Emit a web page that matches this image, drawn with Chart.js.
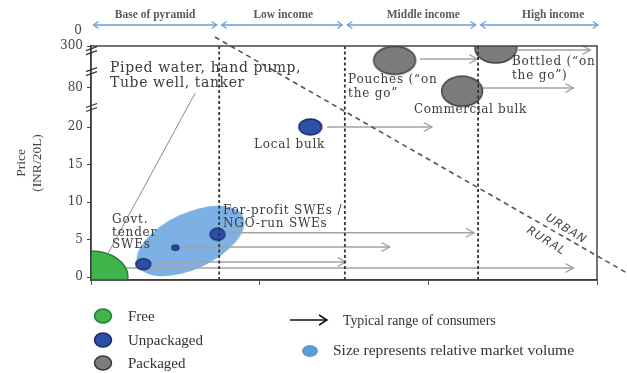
<!DOCTYPE html>
<html><head><meta charset="utf-8">
<script src="https://cdn.jsdelivr.net/npm/chart.js@4.4.1/dist/chart.umd.min.js"></script>
<style>html,body{margin:0;padding:0;background:#fff;}#wrap{width:627px;height:373px;}</style>
</head><body><div id="wrap"><canvas id="c" width="627" height="373"></canvas></div>
<script>
// ---------------- DATA ----------------
// Price axis (INR per 20 L) with breaks above 20
const yTickPrices = [0, 5, 10, 15, 20, 80, 300];
const yTickLabels = ['0', '5', '10', '15', '20', '80', '300'];
const yBreakPrices = [50, 166, 276];

// Consumer income groups along x (income index 0..3)
const incomeGroups = ['Base of pyramid', 'Low income', 'Middle income', 'High income'];
const groupEdges = [0, 0.76, 1.505, 2.295, 3.02];
const groupLabelAt = [0.38, 1.14, 1.97, 2.74];

// Water sources
const sourceNames = ['Piped water, hand pump, Tube well, tanker', 'Govt. tender SWEs', 'Small SWEs',
  'For-profit SWEs / NGO-run SWEs', 'Local bulk', 'Pouches (“on the go”', 'Commercial bulk', 'Bottled (“on the go”)'];
const sourceTypes = ['Free', 'Unpackaged', 'Unpackaged', 'Unpackaged', 'Unpackaged', 'Packaged', 'Packaged', 'Packaged'];
const sourceIncome = [0, 0.31, 0.50, 0.75, 1.30, 1.80, 2.20, 2.40];
const sourcePrice = [0, 1.7, 3.9, 5.7, 20, 225, 75, 290];

// Typical range of consumers (arrows)
const reachStart = [0.21, 0.37, 0.53, 0.82, 1.40, 1.95, 2.32, 2.53];
const reachEnd = [2.86, 1.51, 1.77, 2.27, 2.02, 2.29, 2.86, 2.96];
const reachPrice = [1.2, 2.0, 4.0, 5.9, 20, 232, 80, 279];

// Relative market volume of safe water enterprises (centre: income, price)
const volumeCentre = [0.59, 4.8];

// Urban / rural boundary (income, axis position)
const urbanRuralX = [0.735, 3.178];
const urbanRuralY = [32.0, 0.53];

// ---------------- HELPERS ----------------
function priceToAxis(p) {
  if (p <= 20) return p;
  if (p <= 80) return 20 + (p - 20) / 60 * 5.2;
  return 25.2 + (p - 80) / 220 * 5.6;
}
function ellipseCanvas(rx, ry, fill, stroke, lw, rot) {
  const R = Math.max(rx, ry) + lw + 2;
  const c = document.createElement('canvas');
  c.width = c.height = Math.ceil(R) * 2;
  const g = c.getContext('2d');
  g.translate(c.width / 2, c.height / 2);
  g.rotate((rot || 0) * Math.PI / 180);
  g.beginPath(); g.ellipse(0, 0, rx, ry, 0, 0, Math.PI * 2);
  g.fillStyle = fill; g.fill();
  if (lw) { g.lineWidth = lw; g.strokeStyle = stroke; g.stroke(); }
  return c;
}
function arrowHeadCanvas(color) {
  const c = document.createElement('canvas'); c.width = c.height = 20;
  const g = c.getContext('2d');
  g.strokeStyle = color; g.lineWidth = 1.3;
  g.beginPath(); g.moveTo(2, 5.5); g.lineTo(10, 10); g.lineTo(2, 14.5); g.stroke();
  return c;
}

// ---------------- STYLES ----------------
const typeColors = {
  Free: { fill: '#3fb44b', stroke: '#2b7d31' },
  Unpackaged: { fill: '#2c50a8', stroke: '#1a2c66' },
  Packaged: { fill: '#7c7c7c', stroke: '#3a3a3a' }
};
const markerSize = [[37, 26], [7.5, 5.5], [3.5, 2.5], [7.5, 6], [11.5, 8], [21, 14], [20.5, 15], [21, 15]];
const arrowHead = arrowHeadCanvas('#9a9a9a');

const plotLabels = [
  { lines: ['Piped water, hand pump,', 'Tube well, tanker'], x: 0.113, y: 27.87, size: 14, ls: 0.6, lh: 15 },
  { lines: ['Govt.', 'tender', 'SWEs'], x: 0.125, y: 7.6, size: 12, ls: 0.8, lh: 12.5 },
  { lines: ['For-profit SWEs /', 'NGO-run SWEs'], x: 0.783, y: 8.8, size: 12, ls: 0.8, lh: 13 },
  { lines: ['Local bulk'], x: 0.966, y: 17.6, size: 12, ls: 0.8, lh: 12 },
  { lines: ['Pouches (“on', 'the go”'], x: 1.524, y: 26.27, size: 12, ls: 0.8, lh: 14 },
  { lines: ['Commercial bulk'], x: 1.915, y: 22.27, size: 12, ls: 0.6, lh: 12 },
  { lines: ['Bottled (“on', 'the go”)'], x: 2.496, y: 28.67, size: 12, ls: 0.8, lh: 14 }
];

// ---------------- DATASETS ----------------
const datasets = [];
// market volume ellipse (behind)
datasets.push({
  label: 'Market volume', order: 10, clip: 0,
  data: [{ x: volumeCentre[0], y: priceToAxis(volumeCentre[1]) }],
  pointStyle: ellipseCanvas(58, 28, '#7db0e4', null, 0, -25), pointRadius: 5
});
// reach arrows
sourceNames.forEach((n, i) => {
  datasets.push({
    label: n + ' range', order: 5, showLine: true, clip: false,
    data: [{ x: reachStart[i], y: priceToAxis(reachPrice[i]) }, { x: reachEnd[i], y: priceToAxis(reachPrice[i]) }],
    borderColor: '#a3a3a3', borderWidth: 1.4,
    pointRadius: [0, 5], pointStyle: arrowHead
  });
});
// pointer from piped-water label
datasets.push({
  label: 'pointer', order: 4, showLine: true,
  data: [{ x: 0.617, y: 24.5 }, { x: 0.10, y: 3.1 }],
  borderColor: '#8a8a8a', borderWidth: 1, pointRadius: 0
});
// source markers by type
['Free', 'Unpackaged', 'Packaged'].forEach(t => {
  const idx = sourceTypes.map((s, i) => s === t ? i : -1).filter(i => i >= 0);
  datasets.push({
    label: t, order: 2, clip: 0,
    data: idx.map(i => ({ x: sourceIncome[i], y: priceToAxis(sourcePrice[i]) })),
    pointRadius: 5,
    pointStyle: idx.map(i => ellipseCanvas(markerSize[i][0], markerSize[i][1], typeColors[t].fill, typeColors[t].stroke, 1.3, 0))
  });
});
// income group boundaries
groupEdges.slice(1, 4).forEach(e => {
  datasets.push({
    label: 'boundary', order: 0, showLine: true,
    data: [{ x: e, y: -0.4 }, { x: e, y: priceToAxis(300) }],
    borderColor: '#333', borderWidth: 1.8, borderDash: [3, 2.5], pointRadius: 0
  });
});
// urban / rural line
datasets.push({
  label: 'Urban/Rural', order: 0, showLine: true, clip: false,
  data: urbanRuralX.map((x, i) => ({ x: x, y: urbanRuralY[i] })),
  borderColor: '#555', borderWidth: 1.6, borderDash: [5, 4], pointRadius: 0
});

// ---------------- DECORATION PLUGIN ----------------
function chev(ctx, x, y, dir, len, half) {
  ctx.beginPath(); ctx.moveTo(x - dir * len, y - half); ctx.lineTo(x, y); ctx.lineTo(x - dir * len, y + half); ctx.stroke();
}
function setSpacing(ctx, v) { try { ctx.letterSpacing = v + 'px'; } catch (e) {} }
const deco = {
  id: 'deco',
  afterDatasetsDraw(chart) {
    const ctx = chart.ctx, a = chart.chartArea, sx = chart.scales.x, sy = chart.scales.y;
    const X = v => sx.getPixelForValue(v), Y = v => sy.getPixelForValue(v);
    ctx.save();
    // frame
    ctx.strokeStyle = '#444'; ctx.lineWidth = 1.5;
    ctx.strokeRect(a.left, a.top, a.right - a.left, a.bottom - a.top);
    // axis breaks
    ctx.strokeStyle = '#333'; ctx.lineWidth = 1.2;
    yBreakPrices.forEach(p => {
      const y = Y(priceToAxis(p));
      [-2, 2].forEach(o => { ctx.beginPath(); ctx.moveTo(a.left - 5, y + o + 2); ctx.lineTo(a.left + 6, y + o - 2); ctx.stroke(); });
    });
    // stray top "0"
    ctx.fillStyle = '#444'; ctx.font = "12px 'DejaVu Serif'"; ctx.textAlign = 'right'; ctx.textBaseline = 'middle';
    ctx.fillText('0', a.left - 9, a.top - 15);
    // header
    ctx.strokeStyle = '#6a9ed8'; ctx.lineWidth = 1.3;
    for (let i = 0; i < 4; i++) {
      const x0 = X(groupEdges[i]) + 2.5, x1 = X(groupEdges[i + 1]) - 2.5, y = a.top - 21;
      ctx.beginPath(); ctx.moveTo(x0, y); ctx.lineTo(x1, y); ctx.stroke();
      chev(ctx, x0, y, -1, 5, 3.5); chev(ctx, x1, y, 1, 5, 3.5);
    }
    ctx.fillStyle = '#5a5a5a'; ctx.font = "bold 11.5px 'Liberation Serif'"; ctx.textAlign = 'center';
    incomeGroups.forEach((g, i) => ctx.fillText(g, X(groupLabelAt[i]), a.top - 31));
    // plot labels
    ctx.fillStyle = '#3c3c3c'; ctx.textAlign = 'left'; ctx.textBaseline = 'middle';
    plotLabels.forEach(l => {
      ctx.font = l.size + "px 'DejaVu Serif'";
      setSpacing(ctx, l.ls);
      l.lines.forEach((t, k) => ctx.fillText(t, X(l.x), Y(l.y) + k * l.lh));
    });
    // URBAN / RURAL
    ctx.font = "italic 11.5px 'DejaVu Sans'"; ctx.fillStyle = '#444'; ctx.textAlign = 'center';
    setSpacing(ctx, 1);
    [['URBAN', 566, 229], ['RURAL', 546, 241]].forEach(([t, cx, cy]) => {
      ctx.save(); ctx.translate(cx, cy); ctx.rotate(32 * Math.PI / 180); ctx.fillText(t, 0, 0); ctx.restore();
    });
    setSpacing(ctx, 0);
    // legend
    const lg = [['Free', 316], ['Unpackaged', 340], ['Packaged', 363]];
    ctx.font = "15px 'Liberation Serif'"; ctx.textAlign = 'left'; ctx.fillStyle = '#333';
    lg.forEach(([t, y]) => {
      ctx.beginPath(); ctx.ellipse(103, y, 8.5, 7, 0, 0, Math.PI * 2);
      ctx.fillStyle = typeColors[t].fill; ctx.fill(); ctx.lineWidth = 1.5; ctx.strokeStyle = typeColors[t].stroke; ctx.stroke();
      ctx.fillStyle = '#333'; ctx.fillText(t, 128, y + 1);
    });
    ctx.strokeStyle = '#111'; ctx.lineWidth = 1.5;
    ctx.beginPath(); ctx.moveTo(290, 320); ctx.lineTo(327, 320); ctx.stroke();
    chev(ctx, 327, 320, 1, 8, 5);
    ctx.font = "13.8px 'Liberation Serif'";
    ctx.fillText('Typical range of consumers', 343, 321);
    ctx.beginPath(); ctx.ellipse(310, 351, 8, 6, 0, 0, Math.PI * 2); ctx.fillStyle = '#5b9bd8'; ctx.fill();
    ctx.font = "15.5px 'Liberation Serif'";
    ctx.fillStyle = '#333'; ctx.fillText('Size represents relative market volume', 333, 351);
    ctx.restore();
  }
};

new Chart(document.getElementById('c'), {
  type: 'scatter',
  data: { datasets },
  options: {
    responsive: false, animation: false, events: [], devicePixelRatio: 1,
    layout: { padding: { left: 0, right: 30, top: 46, bottom: 0 } },
    plugins: { legend: { display: false }, tooltip: { enabled: false } },
    scales: {
      x: {
        type: 'linear', min: 0, max: 3,
        afterBuildTicks: s => { s.ticks = [0, 1, 2, 3].map(v => ({ value: v })); },
        ticks: { callback: () => '' },
        grid: { drawOnChartArea: false, tickLength: 5, color: '#555' },
        border: { color: '#333', width: 1.5 },
        afterFit: s => { s.height = 93; }
      },
      y: {
        type: 'linear', min: -0.4, max: priceToAxis(300),
        afterBuildTicks: s => { s.ticks = yTickPrices.map(p => ({ value: priceToAxis(p) })); },
        ticks: { callback: (v, i) => yTickLabels[i], font: { family: 'DejaVu Serif', size: 12 }, color: '#444', padding: 4, autoSkip: false },
        grid: { drawOnChartArea: false, tickLength: 4, color: '#444' },
        border: { color: '#333', width: 1.5 },
        title: { display: true, text: ['Price', '(INR/20L)'], font: { family: 'Liberation Serif', size: 13.5, lineHeight: 1.15 }, color: '#444', padding: { top: 14, bottom: 0 } },
        afterFit: s => { s.width = 91; }
      }
    }
  },
  plugins: [deco]
});
</script></body></html>
